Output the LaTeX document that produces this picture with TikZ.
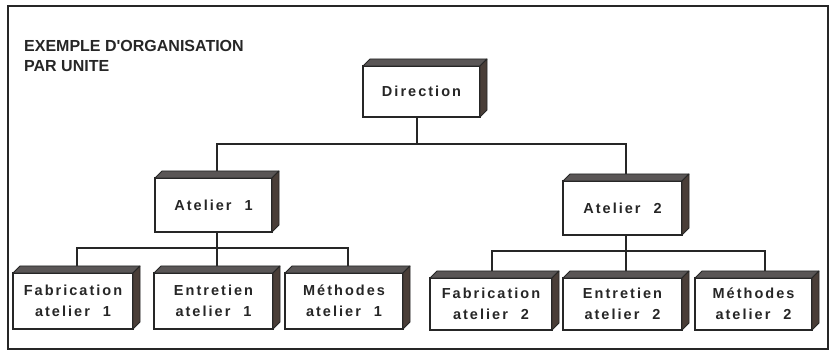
\documentclass[tikz,border=0pt]{standalone}
\usepackage{fontspec}
\usetikzlibrary{backgrounds}
\newfontfamily\boxfont[LetterSpace=14]{Liberation Sans}
\newfontfamily\titlefont{Liberation Sans}
\definecolor{ink}{HTML}{262626}
\definecolor{topc}{HTML}{5A5656}
\definecolor{sidec}{HTML}{4A3E38}
\newcommand{\gap}{\hspace{13pt}}
\tikzset{
  cube/.style={draw=ink, line width=1.3pt, fill=white, inner sep=0pt, outer sep=0pt,
    align=center, text=ink, font={\boxfont\bfseries\fontsize{14.5}{21}\selectfont}},
  topface/.style={fill=topc, draw=ink, line width=0.8pt, line join=round},
  sideface/.style={fill=sidec, draw=ink, line width=0.8pt, line join=round},
  link/.style={draw=ink, line width=1.2pt},
  title/.style={anchor=base west, inner sep=0pt, text=ink, font={\titlefont\bfseries\fontsize{16}{20}\selectfont}}
}
\begin{document}
\begin{tikzpicture}[x=1pt,y=-1pt]
\useasboundingbox (0,0) rectangle (831,355);
\draw[ink, line width=1.5pt] (8,6) rectangle (828,349);

\node[title] (t1) at (24,52) {EXEMPLE D'ORGANISATION};
\node[title] (t2) at (24,72) {PAR UNITE};

\node[cube, minimum width=117pt, minimum height=51pt] (dir) at (421.5,91.5) {Direction};
\node[cube, minimum width=117pt, minimum height=54pt] (a1) at (213.5,205) {Atelier\gap1};
\node[cube, minimum width=119pt, minimum height=54pt] (a2) at (622.5,208) {Atelier\gap2};

\node[cube, minimum width=120pt, minimum height=56pt] (f1) at (73,301) {Fabrication\\atelier\gap1};
\node[cube, minimum width=119pt, minimum height=56pt] (e1) at (213.5,301) {Entretien\\atelier\gap1};
\node[cube, minimum width=118pt, minimum height=56pt] (m1) at (344,301) {Méthodes\\atelier\gap1};

\node[cube, minimum width=122pt, minimum height=52pt] (f2) at (491,304) {Fabrication\\atelier\gap2};
\node[cube, minimum width=119pt, minimum height=52pt] (e2) at (622.5,304) {Entretien\\atelier\gap2};
\node[cube, minimum width=117pt, minimum height=52pt] (m2) at (753.5,304) {Méthodes\\atelier\gap2};

\foreach \n in {dir,a1,a2,f1,e1,m1,f2,e2,m2}{
  \path[topface] (\n.north west) -- ++(7,-7) -- ([shift={(7,-7)}]\n.north east) -- (\n.north east) -- cycle;
  \path[sideface] (\n.north east) -- ([shift={(7,-7)}]\n.north east) -- ([shift={(7,-7)}]\n.south east) -- (\n.south east) -- cycle;
}

\begin{scope}[on background layer]
  \coordinate (j0) at (417,144);
  \coordinate (j1) at (217,248);
  \coordinate (j2) at (626,251);
  \draw[link] (j0 |- dir.south) -- (j0);
  \draw[link] ([xshift=3.5]a1.north) -- ([xshift=3.5]a1.north |- j0) -- ([xshift=3.5]a2.north |- j0) -- ([xshift=3.5]a2.north);
  \draw[link] ([xshift=3.5]a1.south) -- (j1);
  \draw[link] ([xshift=4]f1.north) -- ([xshift=4]f1.north |- j1) -- ([xshift=4]m1.north |- j1) -- ([xshift=4]m1.north);
  \draw[link] (j1) -- ([xshift=3.5]e1.north);
  \draw[link] ([xshift=3.5]a2.south) -- (j2);
  \draw[link] ([xshift=1]f2.north) -- ([xshift=1]f2.north |- j2) -- ([xshift=11.5]m2.north |- j2) -- ([xshift=11.5]m2.north);
  \draw[link] (j2) -- ([xshift=3.5]e2.north);
\end{scope}
\end{tikzpicture}
\end{document}
